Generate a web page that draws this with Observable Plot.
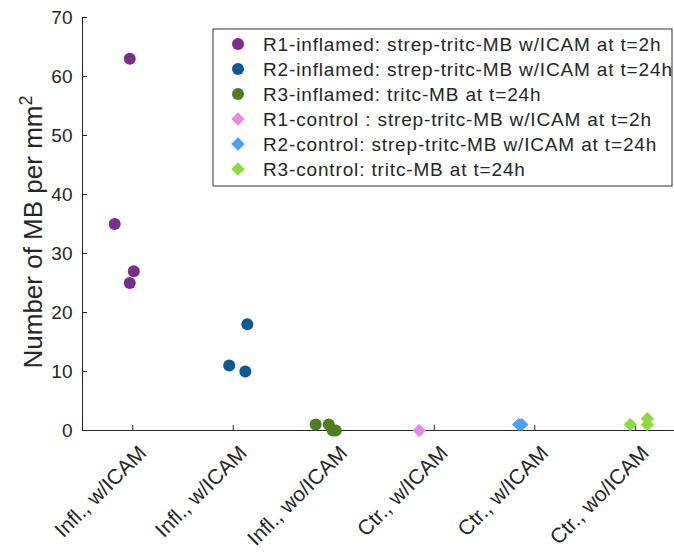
<!DOCTYPE html>
<html>
<head>
<meta charset="utf-8">
<script src="https://cdn.jsdelivr.net/npm/d3@7"></script>
<script src="https://cdn.jsdelivr.net/npm/@observablehq/plot@0.6"></script>
<style>
  html, body { margin: 0; padding: 0; background: white; }
  #chart { position: relative; width: 674px; height: 552px; }
</style>
</head>
<body>
<div id="chart"></div>
<script>
// ---- Data ----
const categories = ["Infl., w/ICAM", "Infl., w/ICAM", "Infl., wo/ICAM", "Ctr., w/ICAM", "Ctr., w/ICAM", "Ctr., wo/ICAM"];
const yTicks = [0, 10, 20, 30, 40, 50, 60, 70];
const xDomain = [0.5, 6.39];
const yDomain = [0, 70];

const seriesNames = [
  "R1-inflamed: strep-tritc-MB w/ICAM at t=2h",
  "R2-inflamed: strep-tritc-MB w/ICAM at t=24h",
  "R3-inflamed: tritc-MB at t=24h",
  "R1-control : strep-tritc-MB w/ICAM at t=2h",
  "R2-control: strep-tritc-MB w/ICAM at t=24h",
  "R3-control: tritc-MB at t=24h"
];
const seriesColors = ["#7B2D8E", "#0B5A92", "#4E7D22", "#E68AE0", "#4C9FF6", "#8DDA3B"];
const seriesSymbols = ["circle", "circle", "circle", "diamond2", "diamond2", "diamond2"];

// jittered x positions (category index units) and values
const r1InflX = [0.97, 0.82, 1.01, 0.97];
const r1InflY = [63, 35, 27, 25];
const r2InflX = [2.14, 1.96, 2.12];
const r2InflY = [18, 11, 10];
const r3InflX = [2.82, 2.95, 2.99, 3.02];
const r3InflY = [1, 1, 0, 0];
const r1CtrX = [3.85];
const r1CtrY = [0];
const r2CtrX = [4.84, 4.87];
const r2CtrY = [1, 1];
const r3CtrX = [5.95, 6.12, 6.12];
const r3CtrY = [1, 2, 1];

const seriesX = [r1InflX, r2InflX, r3InflX, r1CtrX, r2CtrX, r3CtrX];
const seriesY = [r1InflY, r2InflY, r3InflY, r1CtrY, r2CtrY, r3CtrY];

const points = [];
seriesX.forEach((xs, s) => xs.forEach((x, i) => points.push({x, y: seriesY[s][i], s})));

const catIdx = categories.map((_, i) => i + 1);

const font = "'Liberation Sans', Arial, Helvetica, sans-serif";
const ink = "#262626";

const plot = Plot.plot({
  width: 674,
  height: 552,
  marginLeft: 82,
  marginTop: 17,
  marginBottom: 122,
  marginRight: 0,
  x: {domain: xDomain},
  y: {domain: yDomain},
  style: {fontFamily: font, fontSize: "19px", color: ink, background: "white", overflow: "visible"},
  marks: [
    Plot.axisY({ticks: yTicks, tickSize: -5, tickPadding: 15, label: null, fontSize: 19}),
    Plot.axisX({ticks: catIdx, tickFormat: () => "", tickSize: -5, label: null}),
    Plot.ruleY([yDomain[0]], {stroke: ink, strokeWidth: 1}),
    Plot.ruleX([xDomain[0]], {stroke: ink, strokeWidth: 1}),
    Plot.text(catIdx, {
      x: d => d, y: () => yDomain[0], text: d => categories[d - 1],
      rotate: -45, textAnchor: "end", lineAnchor: "middle",
      dx: 10, dy: 19, fontSize: 21, fill: ink, letterSpacing: 0.6
    }),
    Plot.dot(points.filter(d => seriesSymbols[d.s] === "circle"), {
      x: "x", y: "y", r: 6, symbol: "circle",
      fill: d => seriesColors[d.s], stroke: "none"
    }),
    Plot.dot(points.filter(d => seriesSymbols[d.s] !== "circle"), {
      x: "x", y: "y", r: 6, symbol: "diamond2",
      fill: d => seriesColors[d.s], stroke: "none"
    })
  ]
});

document.getElementById("chart").appendChild(plot);

const svg = d3.select(plot);

// y-axis title with superscript
const yMid = 232;
const yt = svg.append("text")
  .attr("transform", `translate(42,${yMid}) rotate(-90)`)
  .attr("text-anchor", "middle")
  .attr("font-family", font)
  .attr("font-size", 26)
  .attr("fill", ink);
yt.append("tspan").text("Number of MB per mm");
yt.append("tspan").attr("baseline-shift", "super").attr("font-size", 18).text("2");

// legend
const lg = svg.append("g").attr("transform", "translate(213,29)");
lg.append("rect").attr("width", 459).attr("height", 157)
  .attr("fill", "white").attr("stroke", "#333").attr("stroke-width", 1);
seriesNames.forEach((name, i) => {
  const cy = 15 + i * 25;
  const sym = seriesSymbols[i] === "circle" ? d3.symbolCircle : d3.symbolDiamond2;
  const size = Math.PI * 36;
  lg.append("path")
    .attr("d", d3.symbol(sym, size)())
    .attr("transform", `translate(25,${cy})`)
    .attr("fill", seriesColors[i]);
  lg.append("text")
    .attr("x", 50).attr("y", cy).attr("dy", "0.35em")
    .attr("text-anchor", "start")
    .attr("font-family", font).attr("font-size", 19)
    .attr("letter-spacing", 0.85)
    .attr("fill", ink)
    .text(name);
});
</script>
</body>
</html>
